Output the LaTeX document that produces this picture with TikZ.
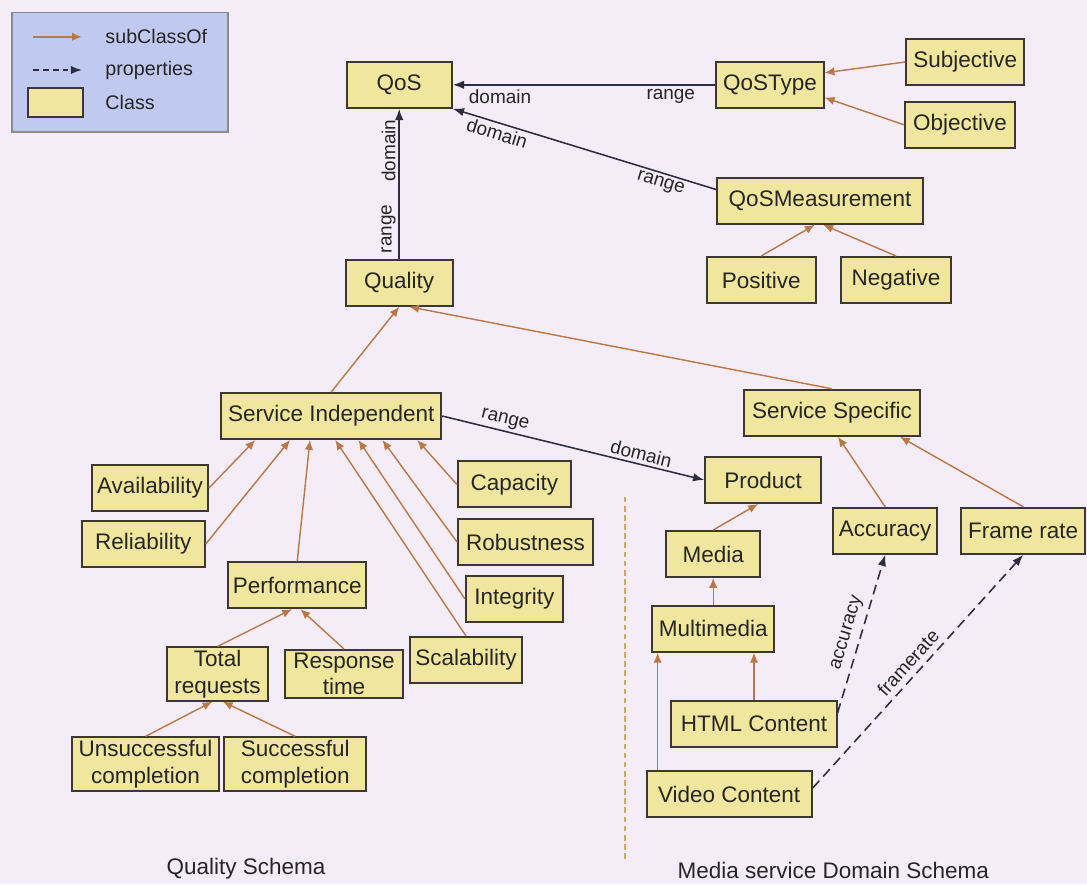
\documentclass[tikz,border=0pt]{standalone}
\usepackage{fontspec}
\setmainfont{Liberation Sans}
\usepackage{xcolor}
\usetikzlibrary{arrows.meta}

\definecolor{pagebg}{RGB}{244,236,246}
\definecolor{classfill}{RGB}{241,230,158}
\definecolor{classline}{RGB}{60,55,50}
\definecolor{subcls}{RGB}{185,120,70}
\definecolor{propline}{RGB}{45,45,65}
\definecolor{legendfill}{RGB}{192,202,240}
\definecolor{divline}{RGB}{215,165,100}

\begin{document}
\begin{tikzpicture}[
	class/.style={draw=classline, line width=1.4pt, fill=classfill, text=black!85,
		font=\fontsize{16}{19}\selectfont, inner sep=2pt, minimum height=1.15cm, align=center},
	sub/.style={draw=subcls, line width=1pt, -{Latex[length=7pt,width=6pt]}},
	prop/.style={draw=propline, line width=1.1pt, -{Latex[length=8pt,width=6pt]}},
	propdash/.style={prop, dash pattern=on 7pt off 4pt},
	lbl/.style={font=\fontsize{13.5}{16}\selectfont, text=black!85, inner sep=2pt},
	title/.style={font=\fontsize{16}{19}\selectfont, text=black!85, inner sep=0pt}
	]
	\fill[pagebg] (0,0) rectangle (27.175,22.1);
	\useasboundingbox (0,0) rectangle (27.175,22.1);

	% legend
	\draw[fill=legendfill, draw=black!45, line width=0.8pt] (0.3,18.8) rectangle (5.7,21.78);
	\coordinate (lsubA) at (0.83,21.18);
	\coordinate (lsubB) at (2.05,21.18);
	\coordinate (lpropA) at (0.83,20.35);
	\coordinate (lpropB) at (2.05,20.35);
	\draw[sub, line width=1.5pt] (lsubA) -- (lsubB);
	\draw[prop, dash pattern=on 4pt off 3pt] (lpropA) -- (lpropB);
	\node[class, minimum width=1.38cm, minimum height=0.72cm] (lclass) at (1.38,19.53) {};
	\node[lbl, anchor=west, font=\fontsize{14}{16}\selectfont] (lsubtxt) at (2.56,21.18) {subClassOf};
	\node[lbl, anchor=west, font=\fontsize{14}{16}\selectfont] (lproptxt) at (2.56,20.35) {properties};
	\node[lbl, anchor=west, font=\fontsize{14}{16}\selectfont] (lclasstxt) at (2.56,19.53) {Class};

	% quality schema
	\node[class, minimum width=2.63cm] (qos) at (9.98,19.98) {QoS};
	\node[class, minimum width=2.68cm] (qostype) at (19.25,19.98) {QoSType};
	\node[class, minimum width=2.95cm] (subjective) at (24.13,20.55) {Subjective};
	\node[class, minimum width=2.75cm] (objective) at (24.00,18.98) {Objective};
	\node[class, minimum width=5.13cm] (qosmeas) at (20.50,17.08) {QoSMeasurement};
	\node[class, minimum width=2.73cm] (positive) at (19.03,15.10) {Positive};
	\node[class, minimum width=2.73cm] (negative) at (22.40,15.10) {Negative};
	\node[class, minimum width=2.68cm] (quality) at (9.98,15.03) {Quality};
	\node[class, minimum width=5.5cm] (servind) at (8.28,11.70) {Service Independent};
	\node[class, minimum width=4.38cm] (servspec) at (20.80,11.78) {Service Specific};
	\node[class, minimum width=2.83cm] (capacity) at (12.86,9.99) {Capacity};
	\node[class, minimum width=2.9cm] (availability) at (3.75,9.90) {Availability};
	\node[class, minimum width=3.08cm] (reliability) at (3.58,8.50) {Reliability};
	\node[class, minimum width=3.38cm] (robustness) at (13.14,8.55) {Robustness};
	\node[class, minimum width=3.45cm] (performance) at (7.43,7.47) {Performance};
	\node[class, minimum width=2.43cm] (integrity) at (12.86,7.13) {Integrity};
	\node[class, minimum width=2.8cm] (scalability) at (11.65,5.60) {Scalability};
	\node[class, minimum width=2.53cm] (totalreq) at (5.44,5.25) {Total\\requests};
	\node[class, minimum width=2.95cm] (resptime) at (8.60,5.25) {Response\\time};
	\node[class, minimum width=3.68cm] (unsucc) at (3.64,3.00) {Unsuccessful\\completion};
	\node[class, minimum width=3.55cm] (succ) at (7.38,3.00) {Successful\\completion};

	% media service domain schema
	\node[class, minimum width=2.9cm] (product) at (19.08,10.10) {Product};
	\node[class, minimum width=2.6cm] (accuracy) at (22.13,8.83) {Accuracy};
	\node[class, minimum width=3.1cm] (framerate) at (25.58,8.83) {Frame rate};
	\node[class, minimum width=2.35cm] (media) at (17.83,8.25) {Media};
	\node[class, minimum width=3.05cm] (multimedia) at (17.83,6.38) {Multimedia};
	\node[class, minimum width=4.13cm] (html) at (18.85,4.00) {HTML Content};
	\node[class, minimum width=4.13cm] (video) at (18.23,2.25) {Video Content};

	\node[title] (qschema) at (6.15,0.38) {Quality Schema};
	\node[title] (mschema) at (20.83,0.33) {Media service Domain Schema};
	\draw[divline, line width=1.3pt, dash pattern=on 4pt off 2.5pt] (15.63,9.68) -- (15.63,0.55);

	% subClassOf
	\draw[sub] (subjective.west) -- ([yshift=0.3cm]qostype.east);
	\draw[sub] (objective.west) -- ([yshift=-0.32cm]qostype.east);
	\draw[sub] (positive.north) -- ([xshift=-0.13cm]qosmeas.south);
	\draw[sub] (negative.north) -- ([xshift=0.08cm]qosmeas.south);
	\draw[sub] (servind.north) -- (quality.south);
	\draw[sub] (servspec.north) -- ([xshift=0.25cm]quality.south);
	\draw[sub] (availability.east) -- ([xshift=-1.9cm]servind.south);
	\draw[sub] (reliability.east) -- ([xshift=-1.03cm]servind.south);
	\draw[sub] (performance.north) -- ([xshift=-0.53cm]servind.south);
	\draw[sub] (scalability.north) -- ([xshift=0.1cm]servind.south);
	\draw[sub] (integrity.west) -- ([xshift=0.68cm]servind.south);
	\draw[sub] (robustness.west) -- ([xshift=1.28cm]servind.south);
	\draw[sub] (capacity.west) -- ([xshift=2.15cm]servind.south);
	\draw[sub] (totalreq.north) -- ([xshift=-0.13cm]performance.south);
	\draw[sub] (resptime.north) -- ([xshift=0.08cm]performance.south);
	\draw[sub] (unsucc.north) -- ([xshift=-0.13cm]totalreq.south);
	\draw[sub] (succ.north) -- ([xshift=0.13cm]totalreq.south);
	\draw[sub] (accuracy.north) -- ([xshift=0.15cm]servspec.south);
	\draw[sub] (framerate.north) -- ([xshift=1.7cm]servspec.south);
	\draw[sub] (media.north) -- ([xshift=-0.13cm]product.south);
	\draw[sub] (multimedia.north) -- (media.south);
	\draw[sub] (html.north) -- (html.north |- multimedia.south);
	\coordinate (vidtop) at ([xshift=0.3cm]video.north west);
	\draw[sub] (vidtop) -- (vidtop |- multimedia.south);

	% properties
	\draw[prop] (qostype.west) -- node[lbl, pos=0.17, below=1pt]{range} node[lbl, pos=0.82, below=1pt]{domain} (qos.east);
	\draw[prop] ([yshift=0.28cm]qosmeas.west) -- node[lbl, pos=0.2, sloped, below]{range} node[lbl, pos=0.82, sloped, below]{domain} (qos.south east);
	\draw[prop] (quality.north) -- node[lbl, pos=0.2, sloped, above]{range} node[lbl, pos=0.72, sloped, above]{domain} (qos.south);
	\draw[prop] (servind.east) -- node[lbl, pos=0.23, sloped, above]{range} node[lbl, pos=0.75, sloped, above]{domain} (product.west);
	\draw[propdash] ([yshift=0.28cm]html.east) -- node[lbl, pos=0.48, sloped, above=2pt]{accuracy} (accuracy.south);
	\draw[propdash] ([yshift=0.15cm]video.east) -- node[lbl, pos=0.5, sloped, above=2pt]{framerate} (framerate.south);
\end{tikzpicture}
\end{document}
